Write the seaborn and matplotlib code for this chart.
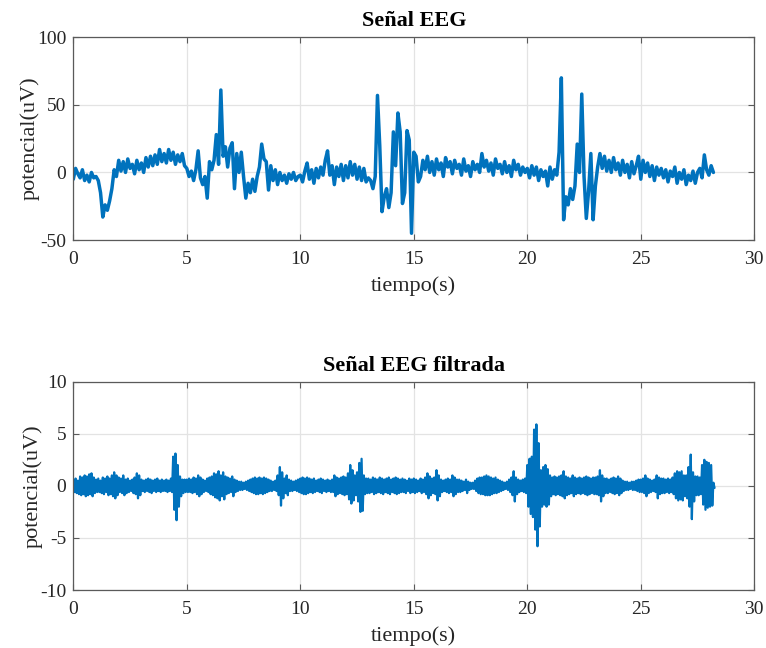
import numpy as np
import pandas as pd
import matplotlib
matplotlib.use("Agg")
import matplotlib.pyplot as plt
import seaborn as sns

# ---------------- data ----------------
dt = 0.1  # sampling step of the values below (s)

# raw EEG (uV), one row per second, t = 0.0 ... 28.2 s
eeg_raw = [
    -5, 3, -1, -4, 2, -6, -2, -7, 0, -4,
    -3, -6, -15, -33, -24, -28, -21, -12, 2, -3,
    9, 1, 8, 0, 10, 3, 6, -1, 9, 2,
    7, 0, 11, 4, 12, 5, 13, 6, 17, 8,
    14, 7, 17, 9, 15, 6, 13, 8, 14, 5,
    3, -3, 1, -6, 2, 16, -4, -9, -3, -19,
    8, 2, 9, 28, 6, 61, 12, 19, 4, 18,
    22, -12, 14, 0, 15, -3, -19, -8, -15, -5,
    -14, -3, 4, 21, 10, 8, -13, 5, -6, 2,
    -9, 0, -6, -2, -8, -1, -5, 0, -6, -3,
    -2, -7, 1, 7, -5, 2, -8, 3, -4, 4,
    -2, 9, 16, -2, 5, -9, 4, -3, 6, -6,
    5, -4, 8, -2, 6, -5, 4, -6, 3, -7,
    -4, -6, -12, -3, 57, 20, -29, -18, -12, -26,
    -15, 30, 5, 44, 30, -23, -15, 31, 24, -45,
    15, 12, -7, -3, 9, 2, 12, 0, 8, -2,
    10, 2, 7, -3, 11, 4, 8, -1, 9, 3,
    6, -2, 10, 1, 5, -3, 8, 2, 6, 0,
    14, 4, 9, 1, 7, -2, 10, 3, 6, -1,
    8, 0, 5, -3, 9, 2, 6, -2, 4, 0,
    3, -4, 5, -2, 4, -6, 2, -3, 1, -10,
    4, -5, 2, -2, 15, 70, -35, -18, -24, -12,
    -20, -10, 21, 0, 58, -3, -34, -14, 14, -35,
    -10, 4, 14, 3, 12, 1, 9, 0, 11, 2,
    7, -2, 9, 0, 6, -4, 8, -1, 5, 12,
    -5, 9, 0, 7, -3, 5, -6, 4, -2, 3,
    -4, 2, -7, 1, -3, 4, -8, 0, -5, 2,
    -9, -2, -6, 1, -8, 0, 3, -4, 13, 2,
    -2, 5, 0,
]

# filtered EEG: upper / lower swing of the oscillation (uV), t = 0.0 ... 28.2 s
filt_hi = [
    0.6, 0.7, 0.5, 0.9, 0.8, 1.0, 0.9, 1.1, 1.2, 0.8,
    0.6, 0.7, 0.5, 0.8, 0.7, 0.9, 0.7, 1.0, 1.3, 1.0,
    0.8, 0.7, 1.0, 0.6, 0.7, 0.5, 0.6, 0.8, 1.2, 1.0,
    0.6, 0.5, 0.6, 0.7, 0.6, 0.5, 0.6, 0.7, 0.5, 0.6,
    0.5, 0.6, 0.5, 0.7, 2.8, 3.1, 2.0, 0.9, 0.6, 0.6,
    0.6, 0.7, 0.6, 0.8, 0.7, 1.0, 0.8, 0.6, 0.5, 0.7,
    0.8, 0.9, 1.2, 1.1, 1.4, 1.0, 1.3, 0.9, 0.8, 0.7,
    0.9, 0.6, 0.5, 0.4, 0.4, 0.3, 0.4, 0.5, 0.6, 0.7,
    0.8, 0.7, 0.8, 0.7, 0.8, 0.7, 0.6, 0.5, 0.4, 0.5,
    1.0, 1.8, 1.3, 0.7, 1.0, 0.6, 0.5, 0.4, 0.5, 0.6,
    0.7, 0.8, 0.7, 0.8, 0.7, 0.6, 0.7, 0.5, 0.6, 0.7,
    0.6, 0.5, 0.6, 0.5, 0.6, 1.0, 0.8, 0.7, 0.8, 0.9,
    0.8, 1.2, 2.0, 1.5, 1.0, 1.3, 2.2, 2.6, 1.0, 0.7,
    0.7, 0.6, 0.8, 0.7, 0.6, 0.8, 0.7, 0.6, 0.7, 0.8,
    0.6, 0.7, 0.8, 0.7, 0.6, 0.7, 0.6, 0.5, 0.7, 0.6,
    0.7, 0.6, 0.5, 0.7, 0.6, 0.8, 1.2, 0.9, 0.7, 0.8,
    1.5, 1.0, 0.6, 0.5, 0.6, 0.7, 0.6, 1.0, 0.8, 0.6,
    0.6, 0.5, 0.4, 0.6, 0.4, 0.3, 0.3, 0.5, 0.7, 0.8,
    0.8, 0.9, 1.0, 0.9, 0.8, 0.7, 0.8, 0.6, 0.5, 0.4,
    0.3, 0.4, 0.6, 0.8, 1.4, 0.8, 0.6, 0.5, 0.6, 0.7,
    2.0, 2.6, 2.8, 5.4, 5.9, 4.1, 1.5, 1.8, 2.0, 1.6,
    1.0, 0.8, 0.9, 0.8, 0.9, 1.0, 1.4, 0.9, 0.8, 0.7,
    1.0, 0.8, 0.7, 0.8, 0.7, 0.8, 0.9, 0.8, 0.7, 0.8,
    0.8, 0.9, 1.5, 1.0, 0.7, 0.7, 0.6, 0.7, 0.8, 0.7,
    0.9, 0.7, 0.5, 0.4, 0.4, 0.3, 0.4, 0.4, 0.5, 0.6,
    0.6, 0.7, 1.0, 0.7, 0.6, 0.5, 0.6, 1.0, 0.8, 0.7,
    0.7, 0.6, 0.7, 0.6, 0.8, 1.2, 1.4, 1.3, 1.4, 1.0,
    1.0, 1.8, 3.0, 1.3, 0.9, 0.9, 0.8, 2.0, 2.5, 2.3,
    2.2, 2.0, 0.3,
]
filt_lo = [
    -0.6, -0.7, -0.8, -0.9, -0.8, -1.0, -0.9, -0.8, -1.0, -0.7,
    -0.6, -0.6, -0.7, -0.8, -0.6, -0.9, -0.8, -1.0, -1.2, -0.9,
    -0.6, -0.7, -0.9, -0.7, -0.6, -0.5, -0.7, -0.8, -1.2, -0.9,
    -0.5, -0.6, -0.5, -0.6, -0.7, -0.5, -0.6, -0.5, -0.6, -0.5,
    -0.5, -0.6, -0.5, -0.6, -2.3, -3.3, -2.0, -1.0, -0.7, -0.6,
    -0.6, -0.6, -0.7, -0.6, -0.8, -1.0, -0.8, -0.6, -0.5, -0.6,
    -0.8, -0.9, -1.1, -1.2, -1.4, -1.0, -1.3, -0.8, -0.7, -0.6,
    -1.0, -0.6, -0.5, -0.4, -0.4, -0.3, -0.4, -0.5, -0.6, -0.7,
    -0.8, -0.8, -0.7, -0.8, -0.7, -0.6, -0.5, -0.5, -0.4, -0.5,
    -0.9, -1.9, -1.2, -0.7, -0.9, -0.5, -0.5, -0.4, -0.5, -0.6,
    -0.7, -0.8, -0.8, -0.7, -0.6, -0.7, -0.6, -0.5, -0.6, -0.7,
    -0.5, -0.6, -0.5, -0.6, -0.6, -1.0, -0.8, -0.7, -0.8, -0.9,
    -0.8, -1.3, -1.7, -1.4, -0.9, -1.5, -2.5, -2.4, -0.8, -0.7,
    -0.7, -0.6, -0.8, -0.7, -0.6, -0.7, -0.8, -0.6, -0.7, -0.8,
    -0.6, -0.7, -0.8, -0.7, -0.6, -0.6, -0.7, -0.5, -0.7, -0.6,
    -0.7, -0.6, -0.5, -0.7, -0.6, -0.8, -1.2, -0.9, -0.7, -0.8,
    -1.4, -1.0, -0.6, -0.5, -0.6, -0.7, -0.6, -1.0, -0.8, -0.6,
    -0.6, -0.5, -0.4, -0.7, -0.4, -0.3, -0.3, -0.5, -0.7, -0.8,
    -0.8, -0.9, -0.9, -0.9, -0.8, -0.7, -0.7, -0.6, -0.5, -0.4,
    -0.3, -0.4, -0.6, -0.9, -1.5, -0.8, -0.6, -0.5, -0.6, -0.7,
    -2.0, -2.7, -3.0, -4.2, -5.8, -3.9, -2.0, -1.8, -2.0, -1.8,
    -1.0, -0.8, -0.9, -0.8, -0.9, -1.0, -1.2, -0.9, -0.8, -0.7,
    -1.0, -0.8, -0.7, -0.8, -0.7, -0.8, -0.9, -0.8, -0.7, -0.8,
    -0.8, -0.9, -1.5, -1.0, -0.7, -0.7, -0.6, -0.7, -0.8, -0.7,
    -0.9, -0.7, -0.5, -0.4, -0.4, -0.3, -0.4, -0.4, -0.5, -0.6,
    -0.6, -0.7, -1.0, -0.7, -0.6, -0.5, -0.6, -1.2, -0.8, -0.7,
    -0.7, -0.6, -0.7, -0.6, -0.8, -1.2, -1.4, -1.3, -1.4, -1.0,
    -1.2, -2.0, -3.2, -1.5, -0.9, -0.9, -0.8, -1.8, -2.3, -2.1,
    -2.0, -1.9, -0.2,
]

titles = ["Señal EEG", "Señal EEG filtrada"]
xlabel = "tiempo(s)"
ylabel = "potencial(uV)"
x_ticks = [0, 5, 10, 15, 20, 25, 30]
y_ticks_top = [-50, 0, 50, 100]
y_ticks_bot = [-10, -5, 0, 5, 10]

# ---------------- tables ----------------
t_raw = np.arange(len(eeg_raw)) * dt
df_raw = pd.DataFrame({"t": t_raw, "v": eeg_raw})

n = len(filt_hi)
t_f = np.empty(2 * n)
v_f = np.empty(2 * n)
t_f[0::2] = np.arange(n) * dt
t_f[1::2] = np.arange(n) * dt + dt / 2
v_f[0::2] = filt_hi
v_f[1::2] = filt_lo
df_f = pd.DataFrame({"t": t_f, "v": v_f})

# ---------------- style ----------------
sns.set_theme(style="ticks")
plt.rcParams["font.family"] = ["Liberation Serif", "DejaVu Serif"]
plt.rcParams["axes.unicode_minus"] = False

BLUE = "#0072BD"
AX = "#262626"

fig = plt.figure(figsize=(7.66, 6.48), dpi=100)
ax1 = fig.add_axes([0.0957, 0.6296, 0.8890, 0.3128])
ax2 = fig.add_axes([0.0957, 0.0895, 0.8890, 0.3215])

sns.lineplot(data=df_raw, x="t", y="v", ax=ax1, color=BLUE, lw=2.5,
             estimator=None, sort=False)
sns.lineplot(data=df_f, x="t", y="v", ax=ax2, color=BLUE, lw=1.6,
             estimator=None, sort=False)

for ax, title, yt in [(ax1, titles[0], y_ticks_top), (ax2, titles[1], y_ticks_bot)]:
    ax.set_xlim(0, 30)
    ax.set_ylim(yt[0], yt[-1])
    ax.set_xticks(x_ticks)
    ax.set_yticks(yt)
    ax.set_xticklabels([str(v) for v in x_ticks])
    ax.set_yticklabels([str(v) for v in yt])
    ax.grid(True, color="#e3e3e3", lw=0.9)
    ax.set_axisbelow(True)
    for s in ax.spines.values():
        s.set_visible(True)
        s.set_color("#5a5a5a")
        s.set_linewidth(0.9)
    ax.tick_params(direction="in", length=4, width=0.8, color="#5a5a5a",
                   labelsize=14, labelcolor=AX, top=True, right=True)
    ax.tick_params(axis="x", pad=8)
    ax.tick_params(axis="y", pad=5)
    ax.set_title(title, fontsize=16, fontweight="bold", color="black", pad=8)
    ax.set_xlabel(xlabel, fontsize=16, color=AX, labelpad=6)
    ax.set_ylabel(ylabel, fontsize=16, color=AX, labelpad=-2)

fig.savefig("out.png", dpi=100)
